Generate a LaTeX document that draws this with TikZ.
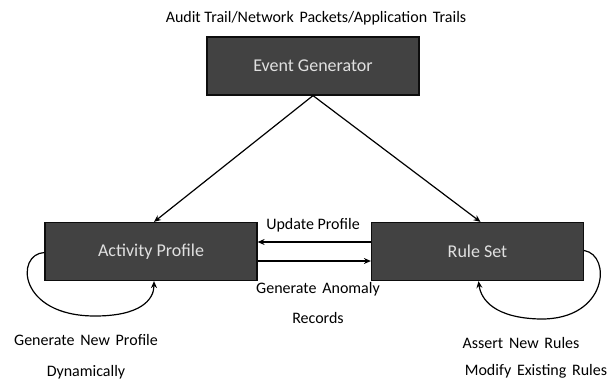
\documentclass[tikz,border=0pt]{standalone}
\usepackage{fontspec}
\setmainfont{Carlito}
\usetikzlibrary{arrows.meta}
\newcommand\wgap{\hspace{0.36em}}
\begin{document}
\begin{tikzpicture}[x=1pt,y=-1pt,
  blk/.style={draw=black!95,line width=1.2pt,fill=black!74,text=white!88!black,
    minimum width=212pt,minimum height=58pt,inner sep=0pt,font=\fontsize{18}{20}\selectfont},
  lbl/.style={font=\fontsize{16}{18}\selectfont,text=black,inner sep=0pt},
  con/.style={line width=1.2pt,-{Stealth[length=7pt,width=6pt]}}]
\useasboundingbox (0,0) rectangle (615,383);
\node[lbl] (title) at (316,18) {Audit Trail/Network\wgap Packets/Application\wgap Trails};
\node[blk] (eg) at (313,66) {Event Generator};
\node[blk] (ap) at (151,251.5) {Activity Profile};
\node[blk] (rs) at (477.5,251.5) {Rule Set};
\draw[con] (eg.south) -- ([xshift=3pt]ap.north);
\draw[con] (eg.south) -- ([xshift=3pt]rs.north);
\draw[con] ([yshift=9.5pt]rs.west) -- ([yshift=9.5pt]ap.east);
\draw[con] ([yshift=-9.5pt]ap.east) -- ([yshift=-9.5pt]rs.west);
\node[lbl] (up) at (313,225) {Update Profile};
\node[lbl] (ga) at (318,289) {Generate\wgap Anomaly};
\node[lbl] (rec) at (318,318) {Records};
\draw[con] ([yshift=-1pt]ap.west) .. controls (15,254) and (18,316) .. (95,316)
   .. controls (140,316) and (154,300) .. ([xshift=3pt]ap.south);
\draw[con] ([yshift=1pt]rs.east) .. controls (612,255) and (608,320) .. (540,319)
   .. controls (495,318) and (481,300) .. ([xshift=1pt]rs.south);
\node[lbl] (gnp) at (86,340) {Generate\wgap New\wgap Profile};
\node[lbl] (dyn) at (86,372) {Dynamically};
\node[lbl] (anr) at (521,343) {Assert\wgap New\wgap Rules};
\node[lbl] (mer) at (536,371) {Modify\wgap Existing\wgap Rules};
\end{tikzpicture}
\end{document}
